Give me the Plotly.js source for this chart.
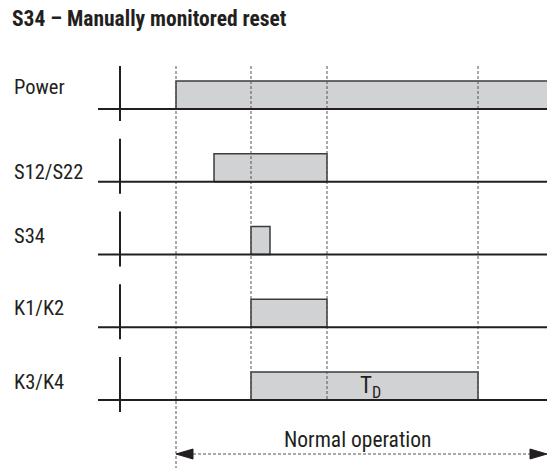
<!DOCTYPE html>
<html>
<head>
<meta charset="utf-8">
<script src="https://cdn.plot.ly/plotly-3.0.1.min.js"></script>
<style>html,body{margin:0;padding:0;background:#fff;}#chart{width:547px;height:468px;}</style>
</head>
<body>
<div id="chart"></div>
<script>
// ---- data (time units) ----
const signals = ['Power', 'S12/S22', 'S34', 'K1/K2', 'K3/K4'];
const pulseStart = [176, 214, 251, 251, 251];
const pulseEnd   = [560, 327, 270, 327, 478];
const pulseText  = ['', '', '', '', 'T<sub>D</sub>'];
const eventTimes = [176, 251, 327, 478];
const normalOpStart = 176;
const normalOpEnd = 547;
const normalOpLabel = 'Normal operation';
const titleText = '<b>S34 – Manually monitored reset</b>';

// ---- layout config (positions / styles) ----
const W = 547, H = 468;
const baseY0 = 109, laneGap = 72.75, pulseH = 28;
const labelOffsets = [22, 10, 19, 19, 18];
const axisStart = 98, tickX = 120;
const FONT = '"Roboto Condensed", Roboto, "DejaVu Sans Condensed", sans-serif';
const INK = '#231f20';
const base = i => baseY0 + laneGap * i;

const traces = [];
// pulses
signals.forEach((s, i) => {
  const b = base(i), t = b - pulseH;
  traces.push({
    x: [pulseStart[i], pulseEnd[i], pulseEnd[i], pulseStart[i], pulseStart[i]],
    y: [b, b, t, t, b],
    mode: 'lines', fill: 'toself', fillcolor: '#d1d2d4',
    line: {color: '#3c3c3c', width: 1.5}, hoverinfo: 'skip', showlegend: false
  });
});
// dashed event lines
eventTimes.forEach((tm, k) => {
  traces.push({
    x: [tm, tm], y: [66, k === 0 ? H : base(signals.length - 1)],
    mode: 'lines', line: {color: '#555', width: 1, dash: '3px,2px'},
    hoverinfo: 'skip', showlegend: false
  });
});
// baselines and tick bars
const bx = [], by = [], tx = [], ty = [];
signals.forEach((s, i) => {
  const b = base(i);
  bx.push(axisStart, W + 5, null); by.push(b, b, null);
  tx.push(tickX, tickX, null); ty.push(b - 43, b + 12, null);
});
traces.push({x: bx, y: by, mode: 'lines', line: {color: INK, width: 2}, hoverinfo: 'skip', showlegend: false});
traces.push({x: tx, y: ty, mode: 'lines', line: {color: INK, width: 2}, hoverinfo: 'skip', showlegend: false});
// normal operation arrow
const ay = 454, headL = 17, headH = 5;
traces.push({
  x: [normalOpStart + headL, normalOpEnd - headL], y: [ay, ay],
  mode: 'lines', line: {color: '#555', width: 1.2, dash: '3px,2px'},
  hoverinfo: 'skip', showlegend: false
});
traces.push({
  x: [normalOpStart, normalOpStart + headL, normalOpStart + headL, normalOpStart],
  y: [ay, ay - headH, ay + headH, ay],
  mode: 'lines', fill: 'toself', fillcolor: INK, line: {color: INK, width: 1},
  hoverinfo: 'skip', showlegend: false
});
traces.push({
  x: [normalOpEnd, normalOpEnd - headL, normalOpEnd - headL, normalOpEnd],
  y: [ay, ay - headH, ay + headH, ay],
  mode: 'lines', fill: 'toself', fillcolor: INK, line: {color: INK, width: 1},
  hoverinfo: 'skip', showlegend: false
});

const annotations = [];
signals.forEach((s, i) => {
  annotations.push({
    x: 12, y: base(i) - labelOffsets[i], xref: 'x', yref: 'y',
    text: s, showarrow: false, xanchor: 'left', yanchor: 'middle',
    font: {family: FONT, size: 20.5, color: INK}
  });
  if (pulseText[i]) {
    annotations.push({
      x: (pulseStart[i] + pulseEnd[i]) / 2 + 6, y: base(i) - pulseH / 2 + 1, xref: 'x', yref: 'y',
      text: pulseText[i], showarrow: false, xanchor: 'center', yanchor: 'middle',
      font: {family: FONT, size: 23, color: INK}
    });
  }
});
annotations.push({
  x: (normalOpStart + normalOpEnd) / 2 - 4, y: 439, xref: 'x', yref: 'y',
  text: normalOpLabel, showarrow: false, xanchor: 'center', yanchor: 'middle',
  font: {family: FONT, size: 21.5, color: INK}
});

const layout = {
  width: W, height: H,
  margin: {l: 0, r: 0, t: 0, b: 0},
  paper_bgcolor: '#fff', plot_bgcolor: '#fff',
  title: {text: titleText, x: 12 / W, xanchor: 'left', xref: 'paper',
          y: 1 - 18 / H, yanchor: 'middle', yref: 'container',
          font: {family: FONT, size: 21.5, color: INK}},
  xaxis: {range: [0, W], visible: false, fixedrange: true},
  yaxis: {range: [H, 0], visible: false, fixedrange: true},
  annotations: annotations,
  showlegend: false
};
Plotly.newPlot('chart', traces, layout, {displayModeBar: false, staticPlot: true});
</script>
</body>
</html>
